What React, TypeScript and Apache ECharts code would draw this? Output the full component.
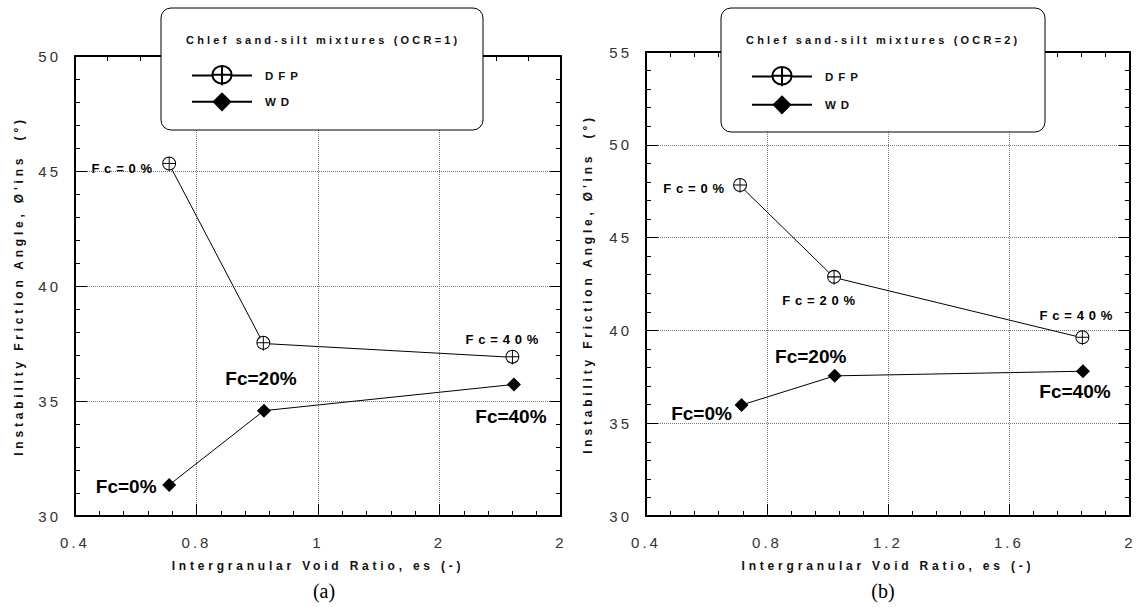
import React, { useEffect, useRef } from 'react';
import * as echarts from 'echarts';

// ---------- data ----------
const xTickLabelsA = ['0.4', '0.8', '1', '2', '2'];
const xTickLabelsB = ['0.4', '0.8', '1.2', '1.6', '2'];

const esA_DFP = [0.71, 1.02, 1.84];
const phiA_DFP = [45.3, 37.5, 36.9];
const esA_WD = [0.71, 1.022, 1.845];
const phiA_WD = [31.35, 34.58, 35.72];

const esB_DFP = [0.711, 1.022, 1.843];
const phiB_DFP = [47.8, 42.85, 39.6];
const esB_WD = [0.716, 1.024, 1.845];
const phiB_WD = [35.98, 37.55, 37.8];

const labelsA_DFP = ['Fc=0%', '', 'Fc=40%'];
const labelsA_WD = ['Fc=0%', 'Fc=20%', 'Fc=40%'];
const labelsB_DFP = ['Fc=0%', 'Fc=20%', 'Fc=40%'];
const labelsB_WD = ['Fc=0%', 'Fc=20%', 'Fc=40%'];

const seriesNames = ['DFP', 'WD'];
const legendTitleA = 'Chlef sand-silt mixtures (OCR=1)';
const legendTitleB = 'Chlef sand-silt mixtures (OCR=2)';
const xName = 'Intergranular Void Ratio, es (-)';
const yName = "Instability Friction Angle, Ø'ins  (°)";

// ---------- styling ----------
const SANS = '"Liberation Sans", Arial, sans-serif';
const SERIF = '"Liberation Serif", "Times New Roman", serif';
const DFP_SYMBOL =
  'path://M0,10A10,10,0,1,0,20,10A10,10,0,1,0,0,10Z M0,10L20,10 M10,0L10,22';

const offA_DFP = [[-45, 4], [0, 0], [-8, -18]];
const offA_WD = [[-43, 2], [-3, -32], [-3, 32]];
const offB_DFP = [[-44, 3], [-13, 23], [-4, -22]];
const offB_WD = [[-40, 8], [-24, -19], [-8, 20]];

const css = `
.ech text[style*="15px"] { letter-spacing: 3px; }
.ech text[style*="12px"] { letter-spacing: 3.8px; }
.ech text[style*="11px"] { letter-spacing: 3.2px; }
.ech text[style*="11.5px"] { letter-spacing: 5px; }
.ech text[style*="13px"] { letter-spacing: 4.8px; }
`;

function buildData(xs: number[], ys: number[], labels: string[], offs: number[][], big: boolean, bgIndex = -1) {
  return xs.map((x, i) => ({
    value: [x, ys[i]],
    label: {
      show: labels[i] !== '',
      formatter: labels[i],
      position: 'inside',
      offset: offs[i],
      fontFamily: SANS,
      fontWeight: 'bold',
      fontSize: big ? 19 : 13,
      color: '#000',
      backgroundColor: i === bgIndex ? '#fff' : 'transparent',
      padding: i === bgIndex ? [0, 2] : 0,
    },
  }));
}

function xAxisBottom(grid: number, labels: string[]) {
  return {
    type: 'value',
    gridIndex: grid,
    position: 'bottom',
    min: 0.4,
    max: 2.0,
    interval: 0.4,
    name: xName,
    nameLocation: 'middle',
    nameGap: 44,
    nameTextStyle: { fontFamily: SANS, fontSize: 12, fontWeight: 'bold', color: '#111' },
    axisLine: { show: true, lineStyle: { color: '#000', width: 2 } },
    axisTick: { show: true, inside: true, length: 12, lineStyle: { color: '#000', width: 1 } },
    minorTick: { show: true, splitNumber: 5, length: 5, lineStyle: { color: '#000', width: 1 } },
    axisLabel: {
      margin: 19,
      fontFamily: SANS,
      fontSize: 15,
      color: '#333',
      formatter: (v: number) => labels[Math.round((v - 0.4) / 0.4)] ?? '',
    },
    splitLine: { show: true, lineStyle: { color: '#777', width: 1, type: [1, 1] } },
  };
}

function xAxisTop(grid: number, min: number, max: number, interval: number) {
  return {
    type: 'value',
    gridIndex: grid,
    position: 'top',
    min,
    max,
    interval,
    axisLine: { show: true, lineStyle: { color: '#000', width: 2 } },
    axisTick: { show: true, inside: true, length: 11, lineStyle: { color: '#000', width: 1 } },
    minorTick: { show: true, splitNumber: 5, length: 5, lineStyle: { color: '#000', width: 1 } },
    axisLabel: { show: false },
    splitLine: { show: false },
  };
}

function yAxisLeft(grid: number, max: number, gap: number) {
  return {
    type: 'value',
    gridIndex: grid,
    position: 'left',
    min: 30,
    max,
    interval: 5,
    name: yName,
    nameLocation: 'middle',
    nameGap: gap,
    nameTextStyle: { fontFamily: SANS, fontSize: 12, fontWeight: 'bold', color: '#111' },
    axisLine: { show: true, lineStyle: { color: '#000', width: 2 } },
    axisTick: { show: true, inside: true, length: 12, lineStyle: { color: '#000', width: 1 } },
    minorTick: { show: true, splitNumber: 5, length: 5, lineStyle: { color: '#000', width: 1 } },
    axisLabel: { margin: 14, fontFamily: SANS, fontSize: 15, color: '#333' },
    splitLine: { show: true, lineStyle: { color: '#777', width: 1, type: [1, 1] } },
  };
}

function yAxisRight(grid: number, max: number) {
  return {
    type: 'value',
    gridIndex: grid,
    position: 'right',
    min: 30,
    max,
    interval: 5,
    axisLine: { show: true, lineStyle: { color: '#000', width: 2 } },
    axisTick: { show: true, inside: true, length: 11, lineStyle: { color: '#000', width: 1 } },
    minorTick: { show: true, splitNumber: 5, length: 5, lineStyle: { color: '#000', width: 1 } },
    axisLabel: { show: false },
    splitLine: { show: false },
  };
}

function dfpSeries(xIdx: number, yIdx: number, data: any[]) {
  return {
    name: seriesNames[0],
    type: 'line',
    xAxisIndex: xIdx,
    yAxisIndex: yIdx,
    symbol: DFP_SYMBOL,
    symbolSize: [13, 14.3],
    symbolKeepAspect: false,
    itemStyle: { color: '#fff', borderColor: '#000', borderWidth: 1 },
    lineStyle: { color: '#000', width: 1 },
    z: 3,
    data,
  };
}

function wdSeries(xIdx: number, yIdx: number, data: any[]) {
  return {
    name: seriesNames[1],
    type: 'line',
    xAxisIndex: xIdx,
    yAxisIndex: yIdx,
    symbol: 'diamond',
    symbolSize: 14,
    itemStyle: { color: '#000', borderColor: '#000', borderWidth: 0 },
    lineStyle: { color: '#000', width: 1 },
    z: 3,
    data,
  };
}

function legend(left: number, top: number, gap: number) {
  return {
    orient: 'vertical',
    left,
    top,
    itemWidth: 60,
    itemHeight: 24,
    itemGap: gap,
    selectedMode: false,
    z: 6,
    data: seriesNames,
    textStyle: { fontFamily: SANS, fontSize: 11.5, fontWeight: 'bold', color: '#111', padding: [0, 0, 0, 8] },
  };
}

function legendBox(x: number, y: number, w: number, h: number, title: string) {
  return [
    {
      type: 'rect',
      z: 5,
      shape: { x, y, width: w, height: h, r: 10 },
      style: { fill: '#fff', stroke: '#000', lineWidth: 1 },
    },
    {
      type: 'text',
      z: 7,
      x: x + 25,
      y: 40,
      style: {
        text: title,
        font: `bold 11px ${SANS}`,
        fill: '#111',
        verticalAlign: 'middle',
        textAlign: 'left',
      },
    },
  ];
}

export default function App() {
  const ref = useRef<HTMLDivElement>(null);

  useEffect(() => {
    if (!ref.current) return;
    const chart = echarts.init(ref.current, undefined, { renderer: 'svg' });
    const option: any = {
      animation: false,
      backgroundColor: '#fff',
      textStyle: { fontFamily: SANS },
      grid: [
        { left: 75, top: 56, width: 486, height: 460 },
        { left: 646, top: 52, width: 487, height: 464 },
      ],
      xAxis: [
        xAxisBottom(0, xTickLabelsA),
        xAxisTop(0, 0, 15, 5),
        xAxisBottom(1, xTickLabelsB),
        xAxisTop(1, 0.4, 2.0, 0.4),
      ],
      yAxis: [yAxisLeft(0, 50, 50), yAxisRight(0, 50), yAxisLeft(1, 55, 52), yAxisRight(1, 55)],
      legend: [legend(186, 60, 6), legend(746, 61, 8)],
      graphic: [
        ...legendBox(161, 8, 322, 122, legendTitleA),
        ...legendBox(721, 8, 324, 124, legendTitleB),
        {
          type: 'text',
          x: 324,
          y: 591,
          style: { text: '(a)', font: `20px ${SERIF}`, fill: '#000', textAlign: 'center', verticalAlign: 'middle' },
        },
        {
          type: 'text',
          x: 883,
          y: 591,
          style: { text: '(b)', font: `20px ${SERIF}`, fill: '#000', textAlign: 'center', verticalAlign: 'middle' },
        },
      ],
      series: [
        dfpSeries(0, 0, buildData(esA_DFP, phiA_DFP, labelsA_DFP, offA_DFP, false)),
        wdSeries(0, 0, buildData(esA_WD, phiA_WD, labelsA_WD, offA_WD, true)),
        dfpSeries(2, 2, buildData(esB_DFP, phiB_DFP, labelsB_DFP, offB_DFP, false)),
        wdSeries(2, 2, buildData(esB_WD, phiB_WD, labelsB_WD, offB_WD, true, 0)),
      ],
    };
    chart.setOption(option);
    return () => chart.dispose();
  }, []);

  return (
    <>
      <style>{css}</style>
      <div
        ref={ref}
        className="ech"
        style={{ position: 'absolute', left: 0, top: 0, width: 1137, height: 607 }}
      />
    </>
  );
}
